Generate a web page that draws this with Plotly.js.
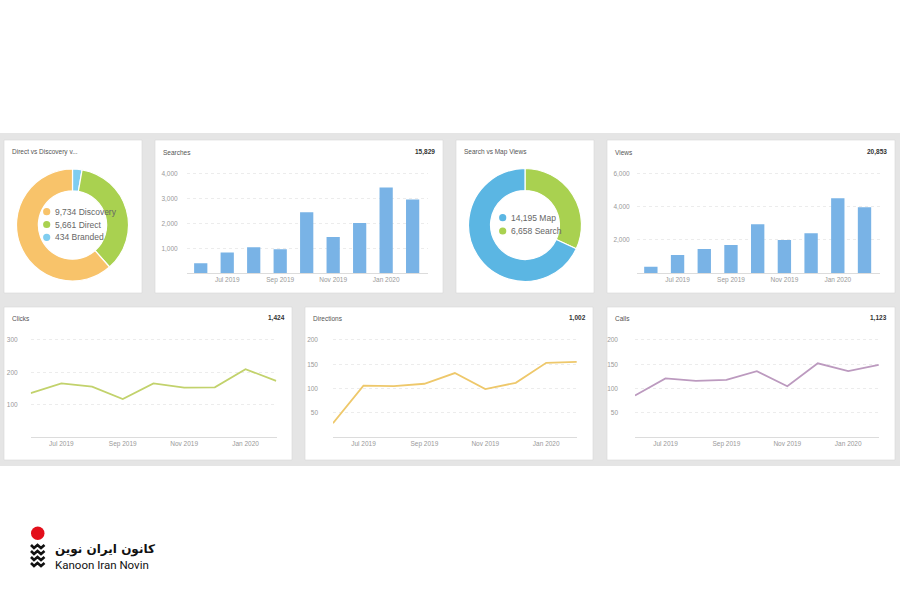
<!DOCTYPE html>
<html><head><meta charset="utf-8">
<script src="https://cdn.plot.ly/plotly-3.0.1.min.js"></script>
<style>html,body{margin:0;padding:0;background:#fff}#chart{width:900px;height:600px}</style>
</head><body><div id="chart"></div>
<script>
// ---- data ----
const months = ['Jun 2019','Jul 2019','Aug 2019','Sep 2019','Oct 2019','Nov 2019','Dec 2019','Jan 2020','Feb 2020'];
const monthTicks = ['Jul 2019','Sep 2019','Nov 2019','Jan 2020'];
const searches = [400, 830, 1040, 960, 2440, 1450, 2010, 3430, 2950];
const views = [400, 1100, 1460, 1700, 2940, 2000, 2400, 4500, 3960];
const clicks = [136, 166, 156, 118, 166, 153, 154, 210, 174];
const directions = [29, 106, 105, 110, 132, 99, 112, 153, 155];
const calls = [86, 121, 116, 118, 136, 105, 152, 136, 149];
const discLabels = ['Branded', 'Direct', 'Discovery'];
const discValues = [434, 5661, 9734];
const mapLabels = ['Search', 'Map'];
const mapValues = [6658, 14195];
const panelTitles = ['Direct vs Discovery v...', 'Searches', 'Search vs Map Views', 'Views', 'Clicks', 'Directions', 'Calls'];
const panelTotals = ['', '15,829', '', '20,853', '1,424', '1,002', '1,123'];

// ---- layout helpers ----
const W = 900, H = 600;
const X = v => v / W, Y = v => 1 - v / H;
const discColors = ['#7fcdf0', '#a9d150', '#f8c36a'];
const mapColors = ['#a9d150', '#5bb6e3'];
const tickFont = {family: 'Arial, Liberation Sans, sans-serif', size: 6.5, color: '#999999'};

const panels = [[4,140,142,293],[155,140,443,293],[456,140,594,293],[607,140,895,293],[4,307,292,460],[305,307,593,460],[607,307,895,460]];
const titlePos = [[10,152],[161,152],[462,152],[613,152],[10,318],[311,318],[613,318]];
const totalPos = [null,[437,152],null,[889,152],[287,318],[588,318],[889,318]];

const shapes = [{type:'rect', xref:'paper', yref:'paper', x0:0, x1:1, y0:Y(466), y1:Y(133), fillcolor:'#e5e5e5', line:{width:0}, layer:'below'}];
panels.forEach(p => shapes.push({type:'rect', xref:'paper', yref:'paper', x0:X(p[0]), x1:X(p[2]), y0:Y(p[3]), y1:Y(p[1]), fillcolor:'#ffffff', line:{color:'#d6d6d6', width:0.6}, layer:'below'}));

// logo mark
shapes.push({type:'circle', xref:'paper', yref:'paper', x0:X(31), x1:X(44.5), y0:Y(540), y1:Y(526.5), fillcolor:'#e30f1b', line:{width:0}});
[545, 551, 557, 563].forEach(yy => {
  shapes.push({type:'path', xref:'paper', yref:'paper',
    path:`M ${X(31)} ${Y(yy)} L ${X(34)} ${Y(yy+3)} L ${X(37.5)} ${Y(yy)} L ${X(41)} ${Y(yy+3)} L ${X(44.5)} ${Y(yy)}`,
    line:{color:'#111', width:2.6}});
});

const annotations = [];
panelTitles.forEach((t, i) => annotations.push({text:t, xref:'paper', yref:'paper', x:X(titlePos[i][0]), y:Y(titlePos[i][1]), xanchor:'left', yanchor:'middle', showarrow:false, font:{family:'Arial, Liberation Sans, sans-serif', size:6.5, color:'#555'}}));
panelTotals.forEach((t, i) => { if (t) annotations.push({text:'<b>'+t+'</b>', xref:'paper', yref:'paper', x:X(totalPos[i][0]), y:Y(totalPos[i][1]), xanchor:'right', yanchor:'middle', showarrow:false, font:{family:'Arial, Liberation Sans, sans-serif', size:6.5, color:'#333'}}); });

// donut legends (drawn from the data arrays, largest first)
function fmt(n){ return n.toLocaleString('en-US'); }
function donutLegend(labels, values, colors, x, ys){
  const idx = labels.map((_, i) => i).reverse();
  idx.forEach((k, j) => {
    const r = 3.6;
    shapes.push({type:'circle', xref:'paper', yref:'paper', x0:X(x - r), x1:X(x + r), y0:Y(ys[j] + r), y1:Y(ys[j] - r), fillcolor:colors[k], line:{width:0}});
    annotations.push({
      text:`${fmt(values[k])} ${labels[k]}`,
      xref:'paper', yref:'paper', x:X(x + 6), y:Y(ys[j]), xanchor:'left', yanchor:'middle', showarrow:false,
      font:{family:'Arial, Liberation Sans, sans-serif', size:8.5, color:'#666'}});
  });
}
donutLegend(discLabels, discValues, discColors, 46.7, [211.7, 224.5, 237.3]);
donutLegend(mapLabels, mapValues, mapColors, 502.7, [217.7, 231]);

// logo text
annotations.push({text:'<b>کانون ایران نوین</b>', xref:'paper', yref:'paper', x:X(53), y:Y(549), xanchor:'left', yanchor:'middle', showarrow:false, font:{family:'DejaVu Sans, Noto Sans, sans-serif', size:12, color:'#111'}});
annotations.push({text:'Kanoon Iran Novin', xref:'paper', yref:'paper', x:X(53), y:Y(565), xanchor:'left', yanchor:'middle', showarrow:false, font:{family:'Roboto, Liberation Sans, sans-serif', size:11.5, color:'#111'}});

// ---- traces ----
const traces = [];
traces.push({type:'pie', labels:discLabels, values:discValues, hole:0.61, sort:false, direction:'clockwise', rotation:0,
  marker:{colors:discColors, line:{color:'#fff', width:1.2}}, textinfo:'none', hoverinfo:'skip', showlegend:false,
  domain:{x:[X(16.5), X(128.5)], y:[Y(281), Y(169)]}});
traces.push({type:'pie', labels:mapLabels, values:mapValues, hole:0.61, sort:false, direction:'clockwise', rotation:0,
  marker:{colors:mapColors, line:{color:'#fff', width:1.2}}, textinfo:'none', hoverinfo:'skip', showlegend:false,
  domain:{x:[X(468.5), X(581.5)], y:[Y(281.5), Y(168.5)]}});
traces.push({type:'bar', x:months, y:searches, xaxis:'x', yaxis:'y', marker:{color:'#79b3e6'}, showlegend:false, hoverinfo:'skip'});
traces.push({type:'bar', x:months, y:views, xaxis:'x2', yaxis:'y2', marker:{color:'#79b3e6'}, showlegend:false, hoverinfo:'skip'});
traces.push({type:'scatter', mode:'lines', x:months, y:clicks, xaxis:'x3', yaxis:'y3', line:{color:'#c2d26c', width:1.8}, showlegend:false, hoverinfo:'skip'});
traces.push({type:'scatter', mode:'lines', x:months, y:directions, xaxis:'x4', yaxis:'y4', line:{color:'#eec86b', width:1.8}, showlegend:false, hoverinfo:'skip'});
traces.push({type:'scatter', mode:'lines', x:months, y:calls, xaxis:'x5', yaxis:'y5', line:{color:'#bc9abf', width:1.8}, showlegend:false, hoverinfo:'skip'});

function xax(d0, d1, anchor, range){
  return {domain:[X(d0), X(d1)], anchor:anchor, type:'category', categoryorder:'array', categoryarray:months,
    tickmode:'array', tickvals:monthTicks, ticktext:monthTicks, tickfont:tickFont, ticks:'', showgrid:false,
    showline:true, linecolor:'#dcdcdc', linewidth:1, zeroline:false, range:range, fixedrange:true};
}
function yax(top, bottom, anchor, range, standoff, vals){
  return {domain:[Y(bottom), Y(top)], anchor:anchor, range:range, tickmode:'array', tickvals:vals, ticktext:vals.map(fmt),
    tickfont:tickFont, ticks:'', showgrid:true, gridcolor:'#ececec', griddash:'dot', gridwidth:1,
    zeroline:false, showline:false, ticklabelstandoff:standoff, fixedrange:true};
}

const layout = {
  width:W, height:H, margin:{l:0, r:0, t:0, b:0}, paper_bgcolor:'#ffffff', plot_bgcolor:'rgba(0,0,0,0)',
  showlegend:false, bargap:0.5, shapes:shapes, annotations:annotations,
  xaxis: xax(186.7, 428, 'y', [-0.53, 8.58]),
  yaxis: yax(168.3, 273.3, 'x', [0, 4200], 8, [1000,2000,3000,4000]),
  xaxis2: xax(636.7, 880, 'y2', [-0.53, 8.58]),
  yaxis2: yax(168.3, 273.3, 'x2', [0, 6300], 6, [2000,4000,6000]),
  xaxis3: xax(30.7, 276.5, 'y3', [0, 8.01]),
  yaxis3: yax(335.1, 437.3, 'x3', [0, 315], 12, [100,200,300]),
  xaxis4: xax(333, 577, 'y4', [0, 8.01]),
  yaxis4: yax(335.1, 437.3, 'x4', [0, 210], 14, [50,100,150,200]),
  xaxis5: xax(635, 879, 'y5', [0, 8.01]),
  yaxis5: yax(335.1, 437.3, 'x5', [0, 210], 16, [50,100,150,200]),
  font:{family:'Arial, Liberation Sans, sans-serif'}
};

Plotly.newPlot('chart', traces, layout, {staticPlot:true, displayModeBar:false});
</script></body></html>
